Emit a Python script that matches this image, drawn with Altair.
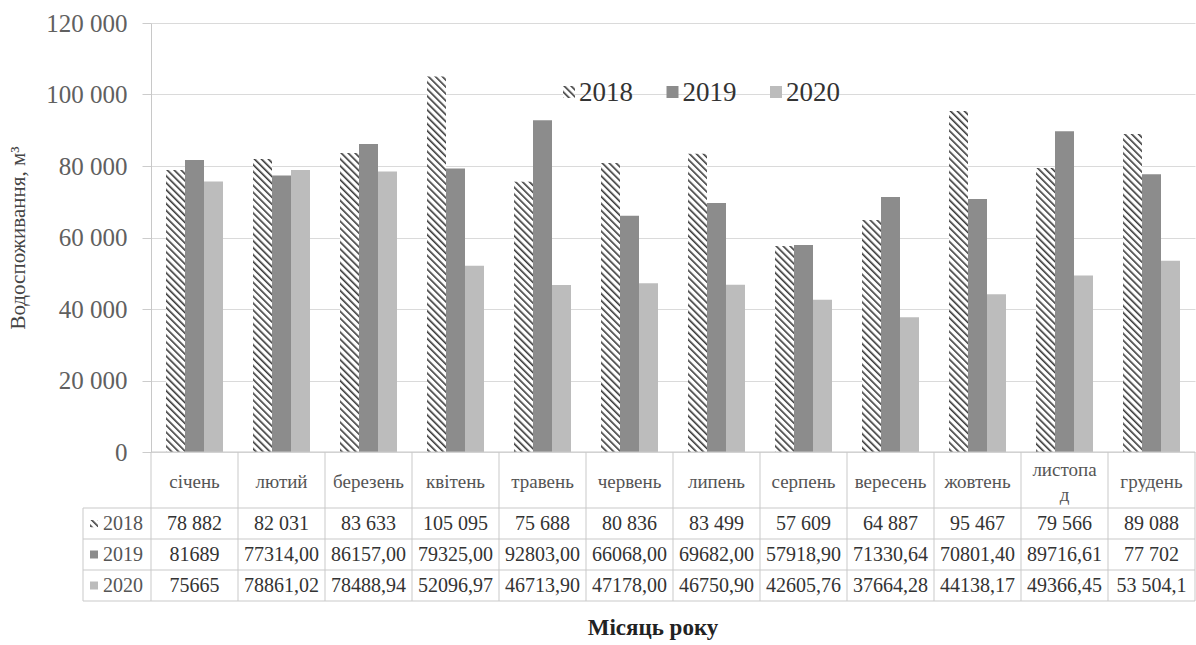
import base64

import altair as alt
import pandas as pd

# Monthly water consumption, m3 (labels exactly as printed in the table)
months = ["січень", "лютий", "березень", "квітень", "травень", "червень",
          "липень", "серпень", "вересень", "жовтень", "листопад", "грудень"]
years = ["2018", "2019", "2020"]
labels_2018 = ["78 882", "82 031", "83 633", "105 095", "75 688", "80 836",
               "83 499", "57 609", "64 887", "95 467", "79 566", "89 088"]
labels_2019 = ["81689", "77314,00", "86157,00", "79325,00", "92803,00", "66068,00",
               "69682,00", "57918,90", "71330,64", "70801,40", "89716,61", "77 702"]
labels_2020 = ["75665", "78861,02", "78488,94", "52096,97", "46713,90", "47178,00",
               "46750,90", "42605,76", "37664,28", "44138,17", "49366,45", "53 504,1"]
y_ticks = [0, 20000, 40000, 60000, 80000, 100000, 120000]


def to_number(text):
    return float(text.replace(" ", "").replace(",", "."))


rows = []
for yr, labels in zip(years, [labels_2018, labels_2019, labels_2020]):
    for m, lab in zip(months, labels):
        rows.append({"month": m, "year": yr, "label": lab, "value": to_number(lab)})
df = pd.DataFrame(rows)
one = pd.DataFrame({"k": [0]})

# layout (pixels, relative to the plot area)
W, H = 1044, 429
SERIF = "Liberation Serif, Times New Roman, DejaVu Serif, serif"
LINE = "#c9c9c9"
col_2019, col_2020 = "#8c8c8c", "#bcbcbc"

# diagonal hatching used for the 2018 series
hatch_svg = (
    "<svg xmlns='http://www.w3.org/2000/svg' width='100%' height='100%'>"
    "<defs><pattern id='p' width='4.9' height='4.9' patternUnits='userSpaceOnUse' "
    "patternTransform='rotate(-45)'><rect width='1.6' height='4.9' fill='#3a3a3a'/>"
    "</pattern></defs>"
    "<rect width='100%' height='100%' fill='#ffffff'/>"
    "<rect width='100%' height='100%' fill='url(#p)'/></svg>"
)
hatch_uri = "data:image/svg+xml;base64," + base64.b64encode(hatch_svg.encode()).decode()

x_enc = alt.X("month:N", sort=months,
              scale=alt.Scale(type="band", domain=months, paddingInner=0, paddingOuter=0),
              axis=None)
xoff_enc = alt.XOffset("year:N",
                       scale=alt.Scale(domain=years, paddingInner=0, paddingOuter=0.79))
y_scale = alt.Scale(domain=[0, 120000], nice=False, zero=True)
y_axis = alt.Axis(
    values=y_ticks,
    labelExpr="replace(format(datum.value, ','), ',', ' ')",
    labelFont=SERIF, labelFontSize=25, labelColor="#606060", labelPadding=15,
    tickSize=9, tickColor="#cccccc", domainColor="#c8c8c8",
    grid=True, gridColor="#dadada",
    title="Водоспоживання, м³", titleFont=SERIF, titleFontSize=21,
    titleFontWeight="normal", titleColor="#444444",
    titleAngle=-90, titleX=-133, titleY=H / 2,
    titleAlign="center", titleBaseline="middle",
)

bars = alt.Chart(df).transform_filter("datum.year != '2018'").mark_bar().encode(
    x=x_enc, xOffset=xoff_enc,
    y=alt.Y("value:Q", stack=None, scale=y_scale, axis=y_axis),
    color=alt.Color("year:N", scale=alt.Scale(domain=["2019", "2020"],
                                              range=[col_2019, col_2020]), legend=None),
)

hatched = alt.Chart(df).transform_filter("datum.year == '2018'").mark_image(
    aspect=False
).encode(
    x=x_enc, xOffset=xoff_enc,
    y=alt.Y("value:Q", stack=None, scale=y_scale, axis=y_axis),
    y2=alt.datum(0),
    url=alt.value(hatch_uri),
)

layers = [bars, hatched]

# data table under the plot: header row with month names
header_style = dict(font=SERIF, fontSize=19, color="#555555", baseline="middle")
layers.append(
    alt.Chart(df).transform_filter("datum.year == '2018' && datum.month != 'листопад'")
    .mark_text(**header_style).encode(x=x_enc, y=alt.value(459), text="month:N"))
layers.append(
    alt.Chart(df).transform_filter("datum.year == '2018' && datum.month == 'листопад'")
    .transform_calculate(hdr="replace(datum.month, 'листопад', 'листопа|д')")
    .mark_text(lineBreak="|", lineHeight=25, **header_style)
    .encode(x=x_enc, y=alt.value(459 - 12.5), text="hdr:N"))

row_top = 485
row_h = 31
for i, yr in enumerate(years):
    yc = row_top + row_h * i + row_h / 2
    layers.append(
        alt.Chart(df).transform_filter(f"datum.year == '{yr}'").mark_text(
            font=SERIF, fontSize=20, color="#333333", baseline="middle"
        ).encode(x=x_enc, y=alt.value(yc), text="label:N")
    )
    layers.append(
        alt.Chart(one).mark_text(font=SERIF, fontSize=20, color="#555555",
                                 align="right", baseline="middle").encode(
            x=alt.value(-8), y=alt.value(yc), text=alt.value(yr))
    )
    if yr == "2018":
        layers.append(alt.Chart(one).mark_image(aspect=False).encode(
            x=alt.value(-61), x2=alt.value(-53), y=alt.value(yc - 4), y2=alt.value(yc + 4),
            url=alt.value(hatch_uri)))
    else:
        layers.append(alt.Chart(one).mark_rect(
            color=col_2019 if yr == "2019" else col_2020).encode(
            x=alt.value(-61), x2=alt.value(-53), y=alt.value(yc - 4), y2=alt.value(yc + 4)))

# table grid lines
layers.append(alt.Chart(one).mark_rule(color=LINE).encode(
    x=alt.value(0), x2=alt.value(W), y=alt.value(H)))
for i in range(4):
    layers.append(alt.Chart(one).mark_rule(color=LINE).encode(
        x=alt.value(-68), x2=alt.value(W), y=alt.value(row_top + row_h * i)))
layers.append(alt.Chart(one).mark_rule(color=LINE).encode(
    x=alt.value(-68), y=alt.value(row_top), y2=alt.value(row_top + row_h * 3)))
layers.append(alt.Chart(df).transform_filter("datum.year == '2018'").mark_rule(
    color=LINE).encode(
    x=alt.X("month:N", sort=months, bandPosition=0,
            scale=alt.Scale(type="band", domain=months, paddingInner=0, paddingOuter=0),
            axis=None),
    y=alt.value(H), y2=alt.value(row_top + row_h * 3)))
layers.append(alt.Chart(one).mark_rule(color=LINE).encode(
    x=alt.value(W), y=alt.value(H), y2=alt.value(row_top + row_h * 3)))

# x title
layers.append(alt.Chart(one).mark_text(font=SERIF, fontSize=23, fontWeight="bold",
                                       color="#222222").encode(
    x=alt.value(502), y=alt.value(605), text=alt.value("Місяць року")))

# legend inside the plot
leg_y = 69
for i, yr in enumerate(years):
    sx = 418 + 103.5 * i
    if yr == "2018":
        layers.append(alt.Chart(one).mark_image(aspect=False).encode(
            x=alt.value(sx - 6), x2=alt.value(sx + 6), y=alt.value(leg_y - 6),
            y2=alt.value(leg_y + 6), url=alt.value(hatch_uri)))
    else:
        layers.append(alt.Chart(one).mark_rect(
            color=col_2019 if yr == "2019" else col_2020).encode(
            x=alt.value(sx - 6), x2=alt.value(sx + 6), y=alt.value(leg_y - 6),
            y2=alt.value(leg_y + 6)))
    layers.append(alt.Chart(one).mark_text(font=SERIF, fontSize=27, color="#333333",
                                           align="left", baseline="middle").encode(
        x=alt.value(sx + 10), y=alt.value(leg_y + 1), text=alt.value(yr)))

chart = alt.layer(*layers).properties(
    width=W, height=H,
    autosize=alt.AutoSizeParams(type="none"),
    padding={"left": 151, "top": 23, "right": 1, "bottom": 193},
    background="white",
).configure(font=SERIF).configure_view(stroke=None)

chart.save("out.html", embed_options={"renderer": "svg", "actions": False})
